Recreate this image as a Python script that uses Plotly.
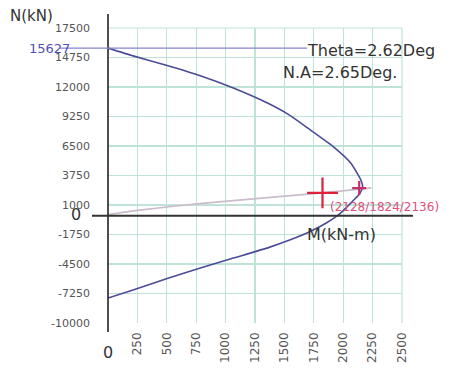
import plotly.graph_objects as go

# Interaction curve (M in kN-m, N in kN)
upper_m = [0, 213, 503, 785, 1066, 1356, 1540, 1720, 1920, 2064, 2150, 2165]
upper_n = [15627, 14900, 14000, 13050, 11900, 10500, 9400, 8000, 6400, 4915, 3330, 2700]
lower_m = [2140, 2090, 2030, 1962, 1860, 1723, 1550, 1370, 1066, 785, 503, 213, 0]
lower_n = [2050, 1460, 800, 100, -650, -1450, -2250, -2950, -3950, -4880, -5850, -6925, -7670]

# load path
load_m = [0, 250, 800, 1824, 2240]
load_n = [100, 500, 1150, 2128, 2600]

load_point_m = [1824]
load_point_n = [2128]
cap_point_m = [2136]
cap_point_n = [2580]

pmax = 15627
x_ticks = [250, 500, 750, 1000, 1250, 1500, 1750, 2000, 2250, 2500]
y_ticks = [17500, 14750, 12000, 9250, 6500, 3750, 1000, -1750, -4500, -7250, -10000]

curve_m = upper_m + lower_m
curve_n = upper_n + lower_n

FONT = "DejaVu Sans"

fig = go.Figure()
fig.add_trace(go.Scatter(x=load_m, y=load_n, mode="lines",
                         line=dict(color="#cbbccb", width=1.6, shape="spline", smoothing=0.6),
                         hoverinfo="skip"))
fig.add_trace(go.Scatter(x=curve_m, y=curve_n, mode="lines",
                         line=dict(color="#4b4b98", width=1.6, shape="spline", smoothing=0.5),
                         hoverinfo="skip"))
fig.add_trace(go.Scatter(x=load_point_m, y=load_point_n, mode="markers",
                         marker=dict(symbol="cross-thin", size=22,
                                     line=dict(color="#e0203a", width=2.2)),
                         hoverinfo="skip"))
fig.add_trace(go.Scatter(x=cap_point_m, y=cap_point_n, mode="markers",
                         marker=dict(symbol="cross-thin", size=10,
                                     line=dict(color="#c0306a", width=2.2)),
                         hoverinfo="skip"))

W, H = 456, 368
L, T = 108, 28
PW, PH = 294, 295
R = W - L - PW
B = H - T - PH


def px(xpage):
    return (xpage - L) / PW


def py(ypage):
    return (T + PH - ypage) / PH


shapes = [
    dict(type="line", xref="paper", yref="paper", x0=0, x1=0, y0=py(332), y1=py(14),
         line=dict(color="#222222", width=1.6)),
    dict(type="line", xref="paper", yref="y", x0=px(92), x1=px(413), y0=0, y1=0,
         line=dict(color="#333333", width=2.2)),
    dict(type="line", xref="paper", yref="y", x0=px(60), x1=px(307), y0=pmax, y1=pmax,
         line=dict(color="#8585cc", width=1.2)),
]

txt = "#333333"
annotations = [
    dict(text="N(kN)", xref="paper", yref="paper", x=px(8), y=py(16), xanchor="left",
         yanchor="middle", showarrow=False, font=dict(size=15, color=txt, family=FONT)),
    dict(text=str(pmax), xref="paper", yref="y", x=px(72), y=pmax, xanchor="right",
         yanchor="middle", showarrow=False, font=dict(size=13, color="#5050b8", family=FONT)),
    dict(text="Theta=2.62Deg", xref="paper", yref="paper", x=px(305), y=py(50), xanchor="left",
         yanchor="middle", showarrow=False, font=dict(size=16, color=txt, family=FONT)),
    dict(text="N.A=2.65Deg.", xref="paper", yref="paper", x=px(281), y=py(72), xanchor="left",
         yanchor="middle", showarrow=False, font=dict(size=16, color=txt, family=FONT)),
    dict(text="M(kN-m)", xref="paper", yref="paper", x=px(305), y=py(234), xanchor="left",
         yanchor="middle", showarrow=False, font=dict(size=16, color=txt, family=FONT)),
    dict(text="(2128/1824/2136)", xref="paper", yref="paper", x=px(328), y=py(207), xanchor="left",
         yanchor="middle", showarrow=False, font=dict(size=12, color="#e0507a", family=FONT)),
    dict(text="0", xref="paper", yref="paper", x=px(76), y=py(214), xanchor="center",
         yanchor="middle", showarrow=False, font=dict(size=16, color=txt, family=FONT)),
    dict(text="0", xref="paper", yref="paper", x=0, y=py(352), xanchor="center",
         yanchor="middle", showarrow=False, font=dict(size=16, color=txt, family=FONT)),
]

grid_col = "#bfe3d6"
fig.update_layout(
    width=W, height=H, autosize=False,
    margin=dict(l=L, r=R, t=T, b=B, pad=0, autoexpand=False),
    paper_bgcolor="white", plot_bgcolor="white",
    showlegend=False,
    shapes=shapes, annotations=annotations,
    xaxis=dict(range=[0, 2500], tickvals=x_ticks, ticktext=[str(v) for v in x_ticks],
               tickangle=-90, showgrid=True, gridcolor=grid_col, gridwidth=1.2,
               zeroline=False, showline=False, ticks="", ticklabelstandoff=6,
               tickfont=dict(size=12, color="#555555", family=FONT),
               fixedrange=True),
    yaxis=dict(range=[-10000, 17500], tickvals=y_ticks, ticktext=[str(v) for v in y_ticks],
               showgrid=True, gridcolor=grid_col, gridwidth=1.2,
               zeroline=False, showline=False, ticks="", ticklabelstandoff=17,
               tickfont=dict(size=11, color="#555555", family=FONT),
               fixedrange=True),
)

fig.add_shape(type="line", xref="paper", yref="paper", x0=1, x1=1, y0=0, y1=1,
              line=dict(color=grid_col, width=1.2), layer="below")
fig.add_shape(type="line", xref="paper", yref="paper", x0=0, x1=1, y0=1, y1=1,
              line=dict(color=grid_col, width=1.2), layer="below")

fig.write_html("out.html",
               config={"displayModeBar": False, "staticPlot": True},
               post_script="document.body.style.margin='0';document.body.style.overflow='hidden';")
